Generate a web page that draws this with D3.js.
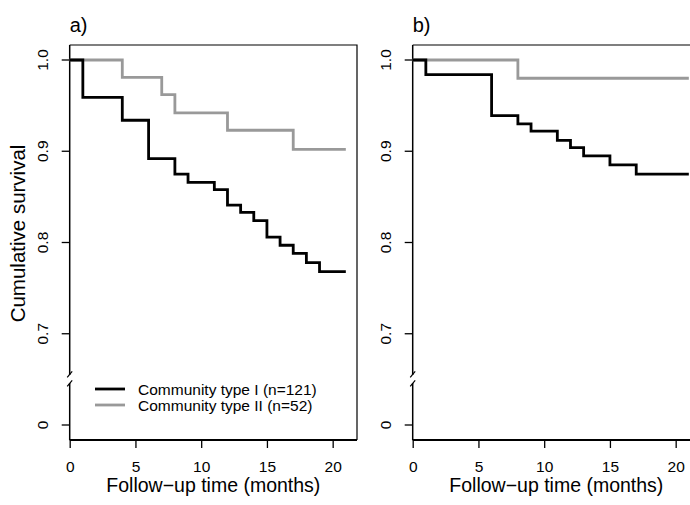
<!DOCTYPE html>
<html><head><meta charset="utf-8">
<script src="https://cdn.jsdelivr.net/npm/d3@7"></script>
<style>body{margin:0;background:#fff;} svg{display:block;} text{font-family:"Liberation Sans",Arial,Helvetica,sans-serif;fill:#000;}</style>
</head><body>
<svg id="c" width="690" height="505"></svg>
<script>
// ---- data ----
const panelLabels = ["a)", "b)"];
const seriesNames = ["Community type I (n=121)", "Community type II (n=52)"];
const seriesColors = ["#000000", "#999999"];
// Panel a
const aTypeITimes  = [0, 1, 4, 6, 8, 9, 11, 12, 13, 14, 15, 16, 17, 18, 19, 21];
const aTypeISurv   = [1.0, 0.959, 0.934, 0.892, 0.875, 0.866, 0.858, 0.841, 0.833, 0.824, 0.806, 0.797, 0.788, 0.778, 0.768, 0.768];
const aTypeIITimes = [0, 4, 7, 8, 12, 17, 21];
const aTypeIISurv  = [1.0, 0.981, 0.962, 0.942, 0.923, 0.902, 0.902];
// Panel b
const bTypeITimes  = [0, 1, 6, 8, 9, 11, 12, 13, 15, 17, 21];
const bTypeISurv   = [1.0, 0.984, 0.939, 0.930, 0.922, 0.912, 0.904, 0.895, 0.885, 0.875, 0.875];
const bTypeIITimes = [0, 8, 21];
const bTypeIISurv  = [1.0, 0.980, 0.980];
// axes
const xTickValues = [0, 5, 10, 15, 20];
const yTickValues = [0, 0.7, 0.8, 0.9, 1.0];
const yTickLabels = ["0", "0.7", "0.8", "0.9", "1.0"];
const xTitle = "Follow\u2212up time (months)";
const yTitle = "Cumulative survival";
const breakShift = 0.6; // value 0 drawn where 0.6 would be (broken axis)

// ---- drawing ----
const svg = d3.select("#c");
const plotTop = 45, plotBottom = 440;
const y = d3.scaleLinear().domain([0.6, 1.0]).range([425, 60]);
const yPos = v => y(v === 0 ? v + breakShift : v);

function panel(i, left, right, data) {
  const x = d3.scaleLinear().domain([0, 21.85]).range([left, right]);
  const g = svg.append("g");
  // box top/right
  g.append("path").attr("d", `M${left},${plotTop}H${right}V${plotBottom}`)
    .attr("fill", "none").attr("stroke", "#000").attr("stroke-width", 1.2);
  // bottom axis
  const xa = g.append("g").attr("transform", `translate(0,${plotBottom})`)
    .call(d3.axisBottom(x).tickValues(xTickValues).tickSize(8).tickPadding(13).tickSizeOuter(0));
  xa.select(".domain").attr("stroke-width", 2).attr("d", `M${left},0H${right}`);
  xa.selectAll(".tick line").attr("stroke-width", 1.3);
  xa.selectAll(".tick text").attr("font-size", 15.5).attr("font-family", "Liberation Sans, Arial, sans-serif").attr("dy", "0.71em");
  // left axis (broken)
  const ya = g.append("g").attr("transform", `translate(${left},0)`);
  const yb = y(0.65);
  ya.append("path").attr("d", `M0,${plotTop}V${yb - 4.5}M0,${yb + 3.5}V${plotBottom}`)
    .attr("stroke", "#000").attr("stroke-width", 1.5).attr("fill", "none");
  ya.append("path").attr("d", `M-2.5,${yb - 2}L2.5,${yb - 8}M-2.5,${yb + 7}L2.5,${yb + 1}`)
    .attr("stroke", "#000").attr("stroke-width", 1.2).attr("fill", "none");
  yTickValues.forEach((v, k) => {
    ya.append("line").attr("x1", -8).attr("x2", 0).attr("y1", yPos(v)).attr("y2", yPos(v))
      .attr("stroke", "#000").attr("stroke-width", 1.3);
    ya.append("text").attr("transform", `translate(-27,${yPos(v)}) rotate(-90)`)
      .attr("text-anchor", "middle").attr("font-size", 15.5).attr("dy", "0.35em").text(yTickLabels[k]);
  });
  // titles
  g.append("text").attr("x", (left + right) / 2).attr("y", 492)
    .attr("text-anchor", "middle").attr("font-size", 19.5).text(xTitle);
  g.append("text").attr("x", left).attr("y", 32).attr("font-size", 20).text(panelLabels[i]);
  // curves
  const line = d3.line().x(d => x(d[0])).y(d => yPos(d[1])).curve(d3.curveStepAfter);
  for (let k = data.length - 1; k >= 0; k--) {
    const s = data[k];
    const pts = s.t.map((t, j) => [t, s.s[j]]);
    g.append("path").datum(pts).attr("d", line).attr("fill", "none")
      .attr("stroke", seriesColors[k]).attr("stroke-width", 2.8).attr("stroke-linejoin", "miter");
  }
  return x;
}

panel(0, 69.7, 357, [{t: aTypeITimes, s: aTypeISurv}, {t: aTypeIITimes, s: aTypeIISurv}]);
panel(1, 412.7, 700, [{t: bTypeITimes, s: bTypeISurv}, {t: bTypeIITimes, s: bTypeIISurv}]);

// y title
svg.append("text").attr("transform", "translate(25,233.5) rotate(-90)")
  .attr("text-anchor", "middle").attr("font-size", 20.5).text(yTitle);

// legend
const leg = svg.append("g");
seriesNames.forEach((n, k) => {
  const ly = 389 + k * 16;
  leg.append("line").attr("x1", 95).attr("x2", 125).attr("y1", ly).attr("y2", ly)
    .attr("stroke", seriesColors[k]).attr("stroke-width", 2.8);
  leg.append("text").attr("x", 138).attr("y", ly).attr("dy", "0.36em").attr("font-size", 15.5).text(n);
});
</script>
</body></html>
